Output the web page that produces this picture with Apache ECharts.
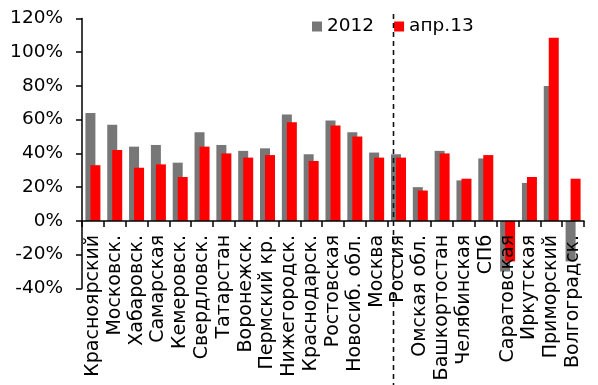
<!DOCTYPE html>
<html>
<head>
<meta charset="utf-8">
<script src="https://cdn.jsdelivr.net/npm/echarts@6/dist/echarts.min.js"></script>
<style>
  html, body { margin: 0; padding: 0; background: #fff; }
  #chart { width: 598px; height: 385px; }
</style>
</head>
<body>
<div id="chart"></div>
<script>
// Регионы (по оси X)
const regions = [
  'Красноярский', 'Московск.', 'Хабаровск.', 'Самарская', 'Кемеровск.',
  'Свердловск.', 'Татарстан', 'Воронежск.', 'Пермский кр.', 'Нижегородск.',
  'Краснодарск.', 'Ростовская', 'Новосиб. обл.', 'Москва', 'Россия',
  'Омская обл.', 'Башкортостан', 'Челябинская', 'СПб', 'Саратовская',
  'Иркутская', 'Приморский', 'Волгоградск.'
];

// Значения, %
const values2012 = [64, 57, 44, 45, 34.5, 52.5, 45, 41.5, 43, 63, 39.5, 59.5, 52.5, 40.5, 39.5, 20, 41.5, 24, 37, -30, 22.5, 80, -24];
const valuesApr13 = [33, 42, 31.5, 33.5, 26, 44, 40, 37.5, 39, 58.5, 35.5, 56.5, 50, 37.5, 37.5, 18, 40, 25, 39, -24, 26, 108.5, 25];

// Подписи
const seriesNames = ['2012', 'апр.13'];
const yTicks = { min: -40, max: 120, step: 20 };

const FONT = 'DejaVu Sans';
const LABEL_GAP = 14;   // отступ подписей регионов от нулевой линии
const Y_LABEL_GAP = 19; // зазор между подписями шкалы и осью Y
const GRID_LEFT = 82;
const chart = echarts.init(document.getElementById('chart'), null, { renderer: 'canvas' });

chart.setOption({
  animation: false,
  backgroundColor: '#ffffff',
  textStyle: { fontFamily: FONT },
  grid: {
    left: GRID_LEFT, right: 14, top: 18.4, bottom: 96.6,
    containLabel: false,
    outerBoundsMode: 'none'
  },
  legend: {
    left: 307,
    top: 12,
    itemWidth: 10,
    itemHeight: 10,
    itemGap: 20,
    icon: 'rect',
    textStyle: { fontFamily: FONT, fontSize: 18.5, color: '#000' },
    data: seriesNames
  },
  xAxis: {
    type: 'category',
    data: regions,
    z: 5,
    axisLine: { onZero: true, lineStyle: { color: '#000', width: 1.5 } },
    axisTick: { show: true, length: 6, inside: false, lineStyle: { color: '#000', width: 1.5 } },
    axisLabel: {
      interval: 0,
      rotate: 90,
      margin: LABEL_GAP,
      fontFamily: FONT,
      fontSize: 19,
      color: '#000'
    },
    splitLine: { show: false }
  },
  yAxis: {
    type: 'value',
    min: yTicks.min,
    max: yTicks.max,
    interval: yTicks.step,
    axisLine: { show: true, lineStyle: { color: '#000', width: 1.5 } },
    axisTick: { show: true, length: 6, inside: false, lineStyle: { color: '#000', width: 1.5 } },
    axisLabel: {
      margin: Y_LABEL_GAP,
      fontFamily: FONT,
      fontSize: 18.5,
      color: '#000',
      formatter: '{value}%'
    },
    splitLine: { show: false }
  },
  series: [
    {
      name: seriesNames[0],
      type: 'bar',
      data: values2012,
      barWidth: 10,
      barGap: '-50%',
      itemStyle: { color: '#777777' }
    },
    {
      name: seriesNames[1],
      type: 'bar',
      data: valuesApr13,
      barWidth: 10,
      barGap: '-50%',
      itemStyle: { color: '#ff0000' }
    }
  ]
});

// Правый край подписи шкалы Y (по отрисованному тексту)
function yLabelRight() {
  const els = chart.getZr().storage.getDisplayList();
  for (const el of els) {
    if (el.style && el.style.text === '0%') {
      const r = el.getBoundingRect().clone();
      if (el.transform) r.applyTransform(el.transform);
      return r.x + r.width;
    }
  }
  return null;
}

// Подписи регионов — сразу под нулевой линией; пунктир перед «Россия»
function finishLayout() {
  const zeroY = chart.convertToPixel({ yAxisIndex: 0 }, 0);
  const bottomY = chart.convertToPixel({ yAxisIndex: 0 }, yTicks.min);
  const cx = chart.convertToPixel({ xAxisIndex: 0 }, 'Россия');
  const prev = chart.convertToPixel({ xAxisIndex: 0 }, 'Москва');
  const x = Math.round(cx - (cx - prev) * 0.25) + 0.5;

  let yMargin = Y_LABEL_GAP;
  const right = yLabelRight();
  if (right !== null) {
    yMargin = Y_LABEL_GAP + (right - (GRID_LEFT - Y_LABEL_GAP));
  }

  chart.setOption({
    xAxis: { axisLabel: { margin: LABEL_GAP - (bottomY - zeroY) } },
    yAxis: { axisLabel: { margin: yMargin } },
    graphic: [{
      type: 'line',
      z: 10,
      shape: { x1: x, y1: 14, x2: x, y2: 385 },
      style: { stroke: '#111', lineWidth: 1.6, lineDash: [5, 4] }
    }]
  });
}
finishLayout();
</script>
</body>
</html>
